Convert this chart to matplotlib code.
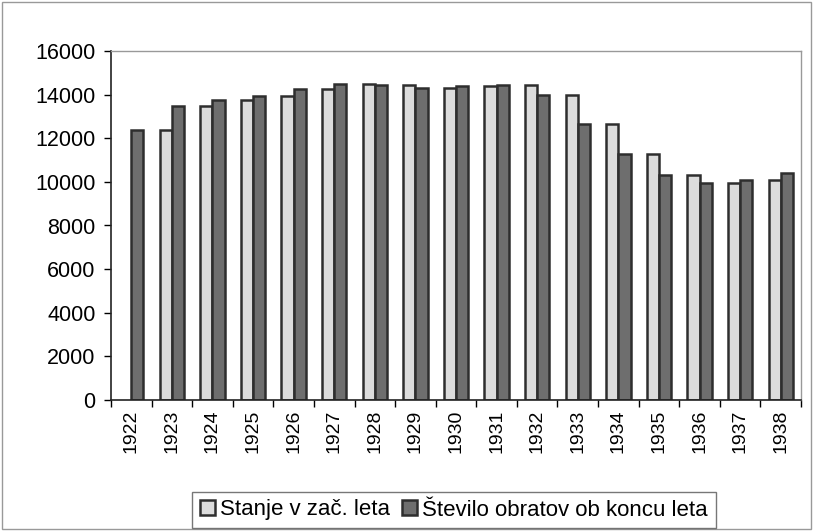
import numpy as np
import matplotlib.pyplot as plt
from matplotlib.patches import Rectangle

plt.rcParams['font.family'] = ['Liberation Sans', 'DejaVu Sans']

years = [str(y) for y in range(1922, 1939)]
stanje = [0, 12400, 13500, 13750, 13950, 14250, 14500, 14450, 14300,
          14400, 14450, 14000, 12650, 11300, 10300, 9950, 10100]
obrati = [12400, 13500, 13750, 13950, 14250, 14500, 14450, 14300, 14400,
          14450, 14000, 12650, 11300, 10300, 9950, 10100, 10400]

fig = plt.figure(figsize=(8.13, 5.31), dpi=100)
ax = fig.add_axes([111/813, 1 - 400/531, 690/813, 349/531])

x = np.arange(len(years))
w = 0.3
# no bar for empty first year
stanje_plot = [v if v else np.nan for v in stanje]
ax.bar(x - w/2, stanje_plot, w, color='#dcdcdc', edgecolor='#2e2e2e', linewidth=1.8,
       label='Stanje v zač. leta')
ax.bar(x + w/2, obrati, w, color='#6e6e6e', edgecolor='#2e2e2e', linewidth=1.8,
       label='Število obratov ob koncu leta')

ax.set_xlim(-0.5, len(years) - 0.5)
ax.set_ylim(0, 16000)
ax.set_yticks(range(0, 16001, 2000))
ax.set_xticks(x)
ax.set_xticklabels(years, rotation=90, fontsize=14)
ax.set_xticks(np.arange(-0.5, len(years)), minor=True)
ax.tick_params(axis='x', which='major', length=0, pad=7)
ax.tick_params(axis='x', which='minor', length=5, width=1, direction='out')
ax.tick_params(axis='y', labelsize=15.5, length=5, width=1, direction='out', pad=6)

for s in ['top', 'right']:
    ax.spines[s].set_color('#999999')
    ax.spines[s].set_linewidth(1)
for s in ['left', 'bottom']:
    ax.spines[s].set_color('#222222')
    ax.spines[s].set_linewidth(1.2)

fig.legend(loc='center', bbox_to_anchor=(454/813, 1 - 510/531), ncol=2,
           fontsize=16, frameon=True, fancybox=False, edgecolor='#555555',
           handlelength=0.68, handleheight=0.68, handletextpad=0.22,
           columnspacing=0.54, borderpad=0.35)

fig.patches.append(Rectangle((0.003, 0.003), 0.994, 0.994, transform=fig.transFigure,
                             fill=False, edgecolor='#999999', linewidth=1))

fig.savefig('out.png', dpi=100)
